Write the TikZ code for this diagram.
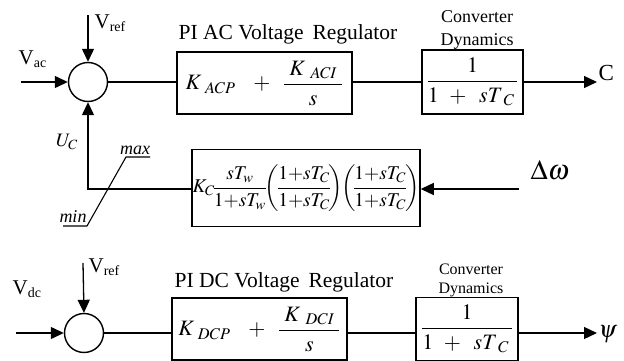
\documentclass[tikz,border=0pt]{standalone}
\usepackage{amsmath}
\usepackage{mathptmx}
\usepackage{fontspec}
\setmainfont{Liberation Serif}
\usetikzlibrary{arrows.meta}
\begin{document}
\begin{tikzpicture}[x=1pt,y=-1pt,line width=1.3pt,
  >={Triangle[length=13pt,width=12pt]},
  blk/.style={draw,line width=1.5pt,inner sep=0pt,minimum width=#1},
  sumc/.style={draw,circle,line width=1.4pt,minimum size=39pt,inner sep=0pt},
  lbl/.style={inner sep=0pt,font=\fontsize{21.5}{24}\selectfont},
  cdl/.style={inner sep=0pt,align=center,font=\fontsize{18}{22.5}\selectfont},
  sig/.style={inner sep=0pt,font=\fontsize{21}{24}\selectfont},
  bt/.style={font=\fontsize{22}{26}\selectfont}]
\useasboundingbox (0,0) rectangle (624,361);

% ---------- top loop ----------
\node[sumc] (s1) at (88,82) {};
\node[blk=175pt,minimum height=62pt,bt] (pi1) at (264.5,83)
  {$K_{\;\,ACP}\;\;\;+\;\;\dfrac{\;K_{\;\;ACI}\;}{s}$};
\node[blk=101pt,minimum height=64pt,bt] (cd1) at (472.5,82)
  {$\dfrac{1}{1\;\,+\;\;sT_{\;\,C}\,}$};
\node[lbl] (pl1) at (288,34) {PI AC Voltage\, Regulator};
\node[cdl] (cl1) at (477,30) {Converter\\Dynamics};

\coordinate (vr1) at (88,15);
\coordinate (va) at (21,82);
\coordinate (co) at (597,82);
\node[sig,anchor=south west] (vr1l) at (94,32) {V\textsubscript{\fontsize{14}{15}\selectfont ref}};
\node[sig,anchor=south west] (val) at (18,68) {V\textsubscript{\fontsize{14}{15}\selectfont ac}};
\node[inner sep=0pt,anchor=south west,font=\fontsize{23}{25}\selectfont] (cl) at (598,81) {C};

\draw[->] (vr1) -- (s1.north);
\draw[->] (va) -- (s1.west);
\draw (s1.east) -- (pi1.west |- s1.east);
\draw (pi1.east |- s1.east) -- (cd1.west |- s1.east);
\draw[->] (cd1.east |- s1.east) -- (co);

% feedback
\node[blk=228pt,minimum height=77pt,font=\fontsize{19.5}{22}\selectfont] (fb) at (306,188)
  {$K_C\!\dfrac{sT_w}{1{+}sT_w}\!\!\left(\!\dfrac{1{+}sT_C}{1{+}sT_C}\!\right)\!\!\left(\!\dfrac{1{+}sT_C}{1{+}sT_C}\!\right)$};
\coordinate (dw) at (519,189);
\draw[->] (dw) -- (fb.east |- dw);
\node[inner sep=0pt,font=\fontsize{28}{30}\selectfont] (dwl) at (550,170) {$\Delta\omega$};
\draw[->] (fb.west |- dw) -| (s1.south);
\node[inner sep=0pt,font=\fontsize{19}{22}\selectfont] (uc) at (67,142) {$U_C$};
% limiter
\coordinate (mn1) at (63,226);
\coordinate (mn2) at (87,226);
\coordinate (mx1) at (126,157);
\coordinate (mx2) at (150,157);
\draw[line width=1.1pt] (mn1) -- (mn2) -- (mx1) -- (mx2);
\node[inner sep=0pt,anchor=south,font=\fontsize{18}{20}\selectfont] (mxl) at (135,155) {\textit{max}};
\node[inner sep=0pt,anchor=south,font=\fontsize{18}{20}\selectfont] (mnl) at (73,223) {\textit{min}};

% ---------- bottom loop ----------
\node[sumc] (s2) at (84,333) {};
\node[blk=175pt,minimum height=62pt,bt] (pi2) at (259.5,329)
  {$K_{\;\,DCP}\;\;\;+\;\;\dfrac{\;K_{\;\;DCI}\;}{s}$};
\node[blk=102pt,minimum height=63pt,bt] (cd2) at (467,329)
  {$\dfrac{1}{1\;\,+\;\;sT_{\;\,C}\,}$};
\node[lbl] (pl2) at (284,282) {PI DC Voltage\, Regulator};
\node[cdl,font=\fontsize{16}{19}\selectfont] (cl2) at (471,280) {Converter\\Dynamics};

\coordinate (vr2) at (83,263);
\coordinate (vd) at (16,333);
\coordinate (po) at (597,333);
\node[sig,anchor=south west] (vr2l) at (88,276) {V\textsubscript{\fontsize{14}{15}\selectfont ref}};
\node[sig,anchor=south west] (vdl) at (12,298) {V\textsubscript{\fontsize{14}{15}\selectfont dc}};
\node[inner sep=0pt,anchor=west,font=\fontsize{24}{26}\selectfont] (psl) at (598,334) {$\psi$};

\draw[->] (vr2) -- (s2.north);
\draw[->] (vd) -- (s2.west);
\draw (s2.east) -- (pi2.west |- s2.east);
\draw (pi2.east |- s2.east) -- (cd2.west |- s2.east);
\draw[->] (cd2.east |- s2.east) -- (po);
\end{tikzpicture}
\end{document}
